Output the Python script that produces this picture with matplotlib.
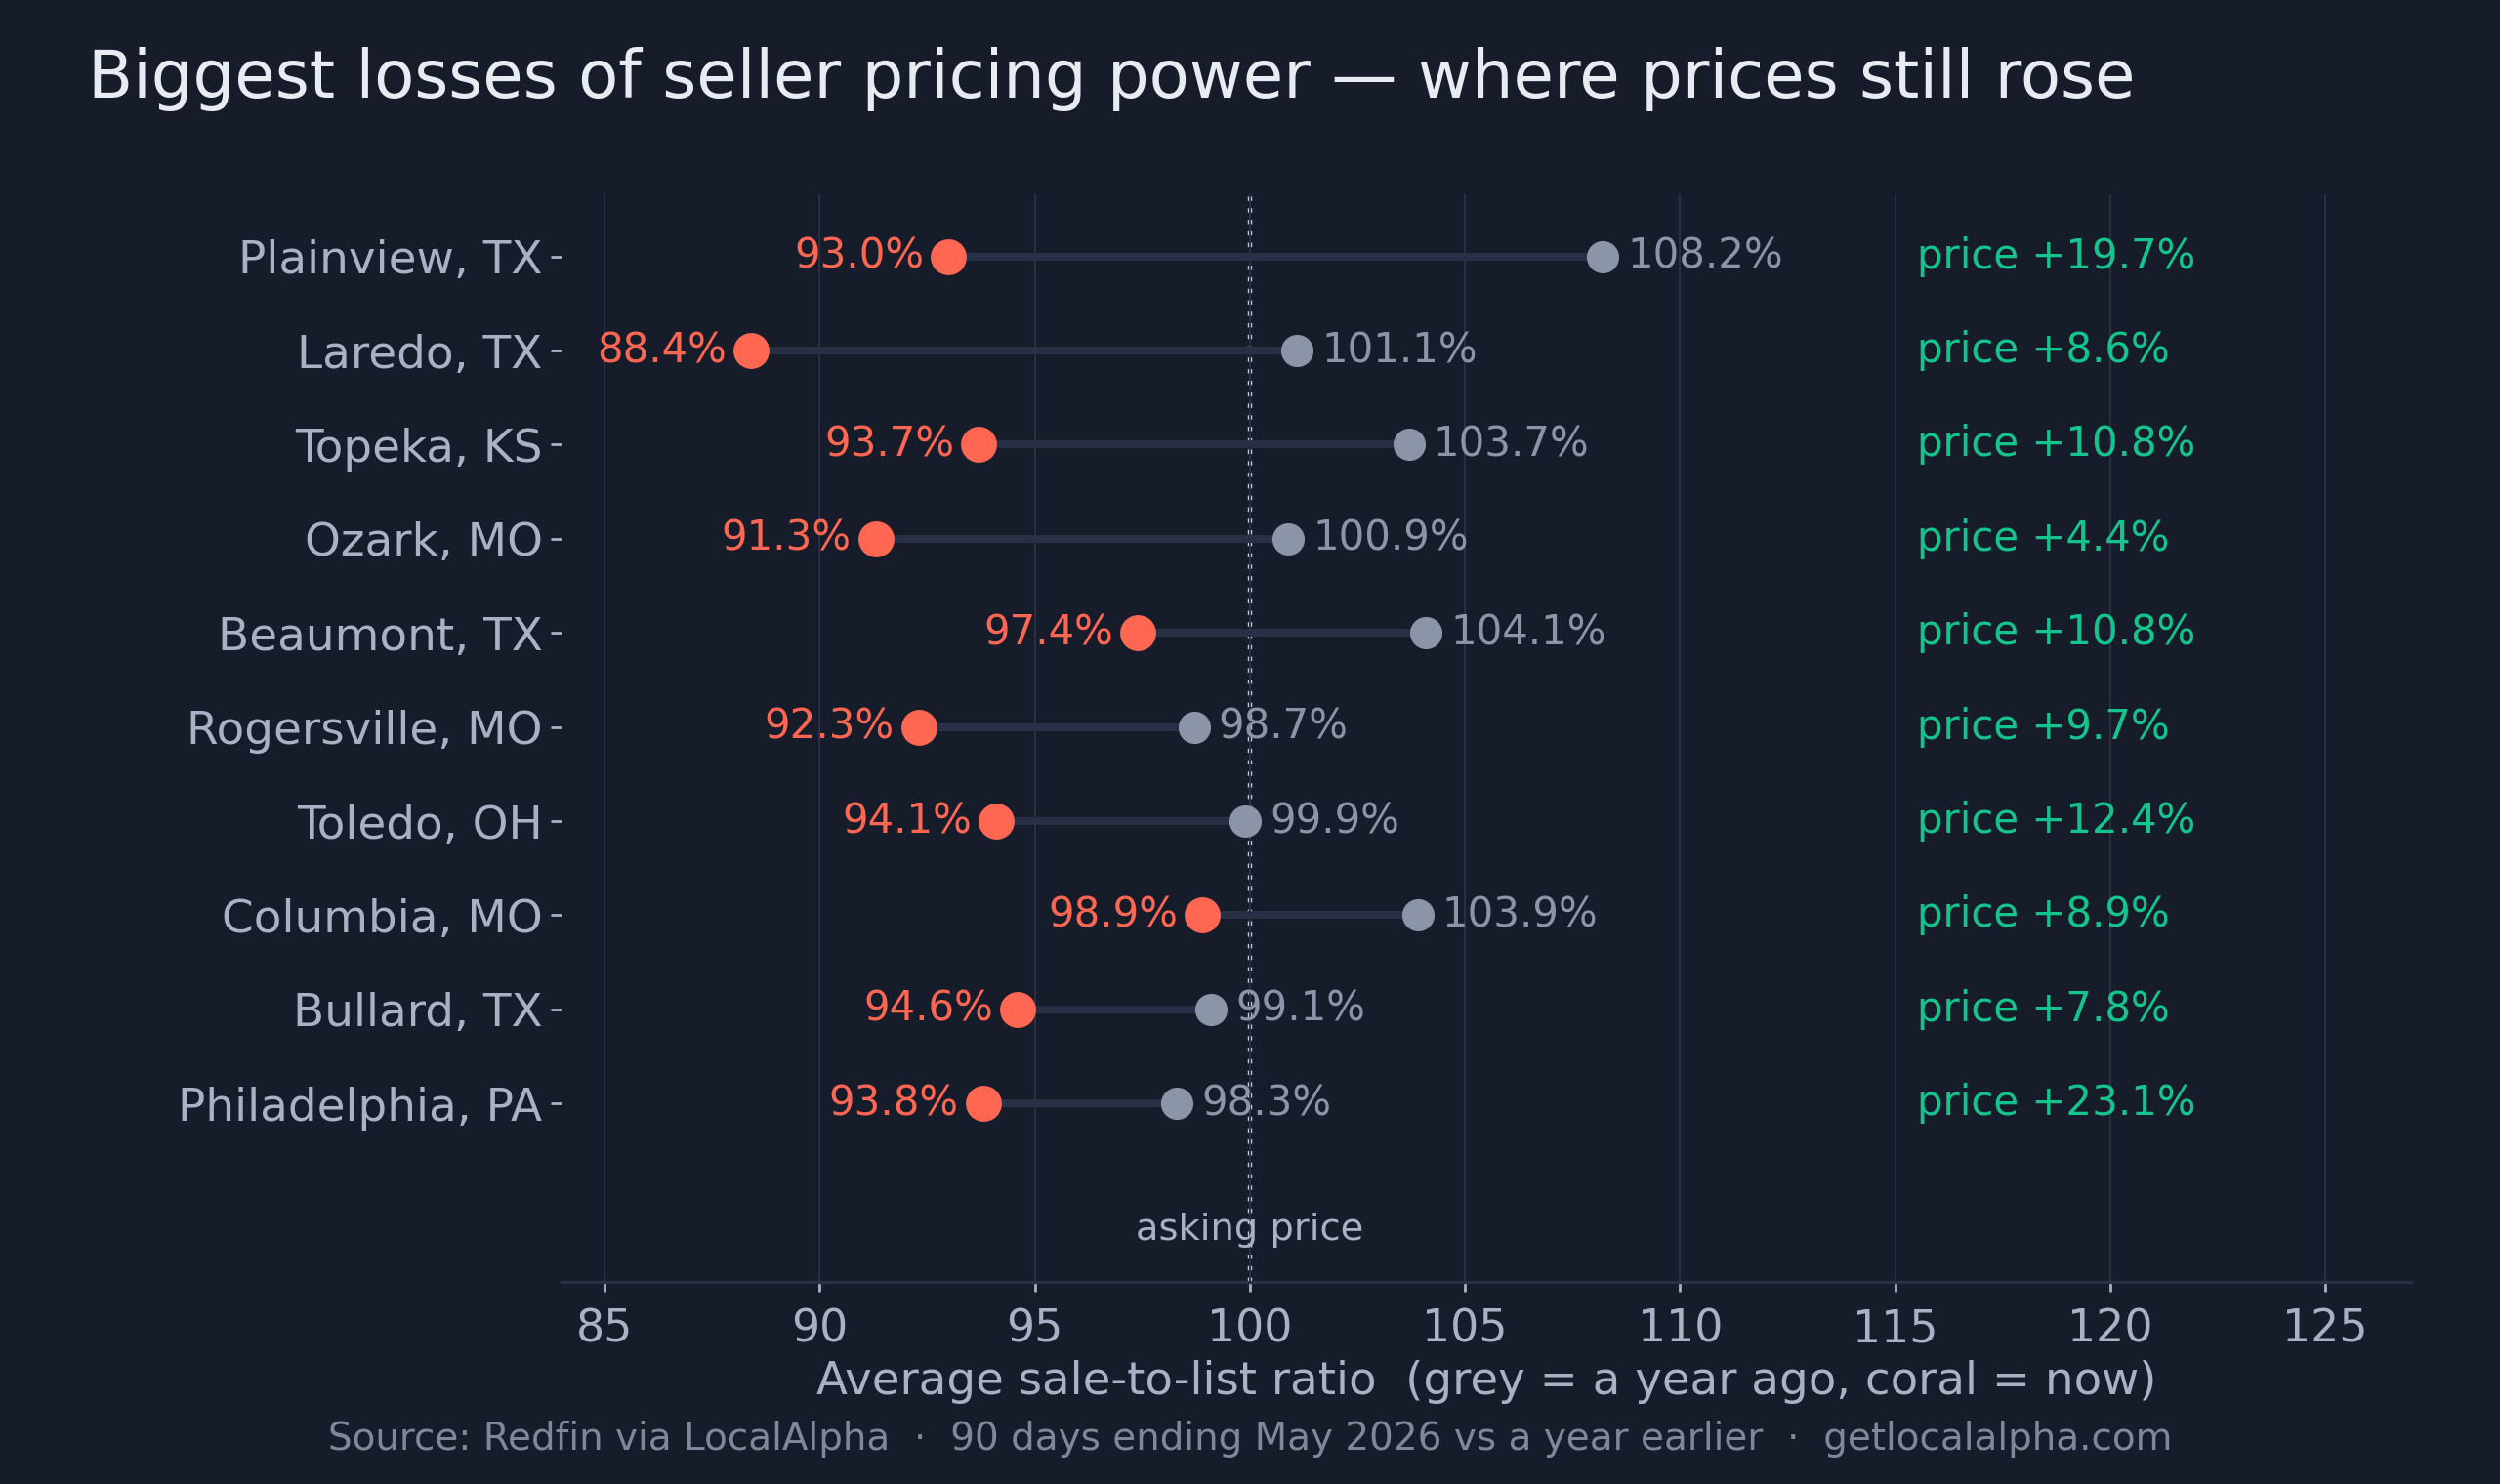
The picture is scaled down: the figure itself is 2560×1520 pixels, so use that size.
import matplotlib
matplotlib.use("Agg")
import matplotlib.pyplot as plt

metros = ["Plainview, TX", "Laredo, TX", "Topeka, KS", "Ozark, MO", "Beaumont, TX",
          "Rogersville, MO", "Toledo, OH", "Columbia, MO", "Bullard, TX", "Philadelphia, PA"]
now_ratio = [93.0, 88.4, 93.7, 91.3, 97.4, 92.3, 94.1, 98.9, 94.6, 93.8]
year_ago_ratio = [108.2, 101.1, 103.7, 100.9, 104.1, 98.7, 99.9, 103.9, 99.1, 98.3]
price_change = [19.7, 8.6, 10.8, 4.4, 10.8, 9.7, 12.4, 8.9, 7.8, 23.1]
xticks = [85, 90, 95, 100, 105, 110, 115, 120, 125]

BG = "#171c2b"
CORAL = "#ff6752"
GREY = "#8c94a8"
SEG = "#283045"
GREEN = "#13c48d"
TXT = "#a9b1c4"
GRID = "#2a3144"

plt.rcParams['font.family'] = ['DejaVu Sans']
fig = plt.figure(figsize=(12.8, 7.6), dpi=200, facecolor=BG)
ax = fig.add_axes([0.2246, 0.136, 0.9645 - 0.2246, 0.869 - 0.136])
ax.set_facecolor(BG)

ys = list(range(len(metros)))
ax.set_xlim(84, 127)
ax.set_ylim(10.9, -0.66)

ax.set_xticks(xticks)
ax.grid(axis='x', color=GRID, linewidth=0.7, zorder=0)
ax.grid(axis='y', visible=False)
ax.axvline(100, color="#c3c9d6", linestyle=':', linewidth=1.6, zorder=1)

ax.hlines(ys, now_ratio, year_ago_ratio, color=SEG, linewidth=2.9, zorder=2)
ax.scatter(year_ago_ratio, ys, s=142, color=GREY, zorder=4, linewidths=0)
ax.scatter(now_ratio, ys, s=176, color=CORAL, zorder=5, linewidths=0)

for y, n, a, p in zip(ys, now_ratio, year_ago_ratio, price_change):
    ax.annotate(f"{n:.1f}%", (n, y), xytext=(-9, 0), textcoords='offset points',
                ha='right', va='center', color=CORAL, fontsize=15.1, zorder=6)
    ax.annotate(f"{a:.1f}%", (a, y), xytext=(9, 0), textcoords='offset points',
                ha='left', va='center', color=GREY, fontsize=15.1, zorder=6)
    ax.text(115.5, y, f"price +{p:.1f}%", ha='left', va='center', color=GREEN, fontsize=15.1)

ax.text(100, 10.35, "asking price", ha='center', va='center', color=TXT, fontsize=13.8)

ax.set_yticks(ys)
ax.set_yticklabels(metros)
ax.tick_params(axis='y', colors=TXT, labelsize=16.9, length=4, width=1, pad=3, labelcolor=TXT)
ax.tick_params(axis='x', colors=TXT, labelsize=16.5, length=3.6, width=1, pad=6, labelcolor=TXT)
for s in ['top', 'right', 'left']:
    ax.spines[s].set_visible(False)
ax.spines['bottom'].set_color(GRID)
ax.spines['bottom'].set_linewidth(1.2)

ax.set_xlabel("Average sale-to-list ratio  (grey = a year ago, coral = now)",
              color=TXT, fontsize=16.8, labelpad=3)

fig.text(0.035, 0.934, "Biggest losses of seller pricing power \u2014 where prices still rose",
         color="#e8ebf2", fontsize=24.2, ha='left', va='baseline')
fig.text(0.5, 0.023, "Source: Redfin via LocalAlpha  \u00b7  90 days ending May 2026 vs a year earlier  \u00b7  getlocalalpha.com",
         color="#80879a", fontsize=14.0, ha='center', va='baseline')

fig.savefig("out.png", dpi=200, facecolor=BG)
